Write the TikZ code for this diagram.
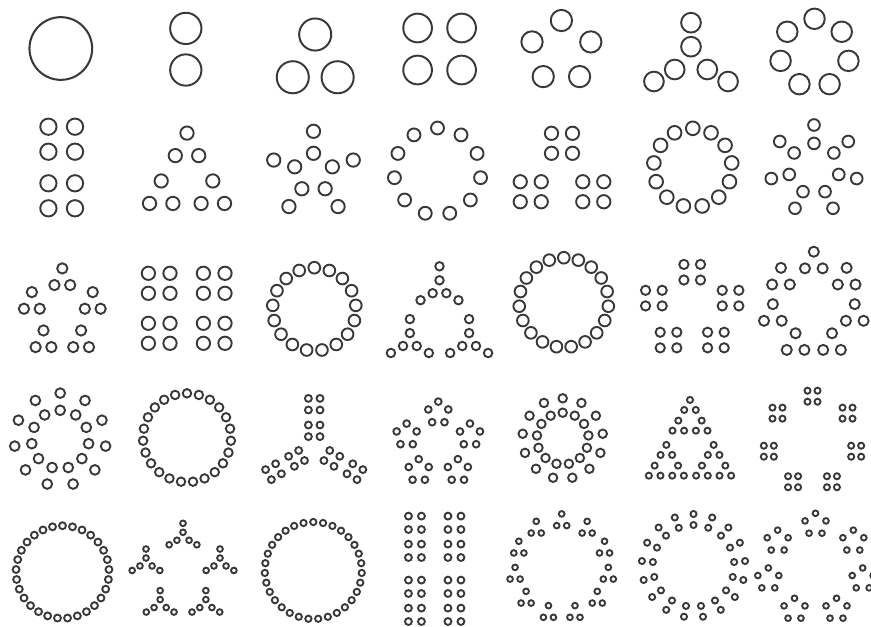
\documentclass[tikz,border=0pt]{standalone}
\makeatletter
\let\fdstop\relax
\newcommand\fdr[5]{\fdrA{#1}{#2}{#3}{#4}#5\fdstop{}{}{}\fdend}
\def\fdrA#1#2#3#4#5#6#7#8#9\fdend{%
  \ifx#5\fdstop\expandafter\@firstoftwo\else\expandafter\@secondoftwo\fi
  {\fdcircle{#1}{#2}{#4}}%
  {\csname fd@#5\endcsname{#1}{#2}{#3}{#4}{#6}{#7}{#8}{#9}}}
\def\fdisP#1#2\fdend{\ifx#1P\def\fdrp{1}\else\def\fdrp{0}\fi}
\def\fdcircle#1#2#3{\pgfmathsetmacro\fdlw{1.85+0.006*#3}%
  \pgfmathsetmacro\fdrr{#3-0.15}%
  \draw[fdline,line width=\fdlw pt] (#1,#2) circle[radius=\fdrr];}
\expandafter\def\csname fd@R\endcsname#1#2#3#4#5#6#7#8{%
  \foreach \fdk in {1,...,#5}{%
    \pgfmathsetmacro\fdb{360*(\fdk-1)/#5}%
    \pgfmathsetmacro\fdu{#6*sin(\fdb)}%
    \pgfmathsetmacro\fdv{-#7*cos(\fdb)}%
    \pgfmathsetmacro\fdx{#1+\fdu*cos(#3)-\fdv*sin(#3)}%
    \pgfmathsetmacro\fdy{#2+\fdu*sin(#3)+\fdv*cos(#3)}%
    \fdisP#8\fdend
    \pgfmathsetmacro\fdc{#3+\fdrp*\fdb}%
    \edef\fdargs{\noexpand\fdr{\fdx}{\fdy}{\fdc}{#4}}\fdargs{#8}}}
\def\fd@grid#1#2#3#4#5#6#7#8{%
  \foreach \fdi/\fdj in {#8}{%
    \pgfmathsetmacro\fdu{\fdi*#5}%
    \pgfmathsetmacro\fdv{\fdj*#6}%
    \pgfmathsetmacro\fdx{#1+\fdu*cos(#3)-\fdv*sin(#3)}%
    \pgfmathsetmacro\fdy{#2+\fdu*sin(#3)+\fdv*cos(#3)}%
    \edef\fdargs{\noexpand\fdr{\fdx}{\fdy}{#3}{#4}}\fdargs{#7}}}
\expandafter\def\csname fd@P\endcsname#1#2#3#4#5#6#7#8{\fd@grid{#1}{#2}{#3}{#4}{0}{#6}{#8}{0/-1,0/1}}
\expandafter\def\csname fd@Q\endcsname#1#2#3#4#5#6#7#8{\fd@grid{#1}{#2}{#3}{#4}{#6}{#7}{#8}{-1/-1,1/-1,-1/1,1/1}}
\makeatother
\tikzset{fdline/.style={draw=black!78}}
\begin{document}
\begin{tikzpicture}[x=1pt,y=-1pt]
\fill[white] (0,0) rectangle (871,627);
\useasboundingbox (0,0) rectangle (871,627);
% row 1
\fdr{60.8}{48.5}{0}{31.5}{}
\fdr{185.8}{49.2}{0}{15.8}{P{}{20.8}{}}
\fdr{315.2}{63}{0}{16.2}{R{3}{25.9}{28.5}}
\fdr{439.6}{49}{0}{14.5}{Q{}{22}{21}}
\fdr{561.4}{51.5}{0}{10.8}{R{5}{30.9}{31}}
\fdr{691}{61.9}{0}{10}{R{3}{30.8}{27.2}P{}{12}{}}
\fdr{814.5}{53.2}{0}{10.4}{R{7}{34.8}{34.4}}
% row 2
\fdr{61.7}{167.5}{0}{8.3}{P{}{28.3}{}Q{}{13.3}{12.5}}
\fdr{187}{180}{0}{6.8}{R{3}{29.8}{31.9}R{3}{13.5}{15}}
\fdr{313.5}{172.9}{0}{6.8}{R{5}{30.8}{30.6}P{}{11}{}}
\fdr{437.5}{171.5}{0}{6.6}{R{11}{43.5}{43.5}}
\fdr{562}{175.6}{0}{6.8}{R{3}{36.1}{32.3}Q{}{10.5}{10}}
\fdr{692.8}{167.7}{0}{7}{R{13}{39.2}{39.4}}
\fdr{814}{168.8}{0}{6}{R{7}{34.6}{34.6}P{}{9.2}{}}
% row 3
\fdr{62.3}{313.8}{0}{5.3}{R{5}{32}{34.3}R{3}{9.1}{11.1}}
\fdr{186.7}{308.3}{0}{6.8}{Q{}{27.5}{25}Q{}{10.8}{10}}
\fdr{314.3}{309.2}{0}{6}{R{17}{41.7}{41.5}}
\fdr{439.5}{324.1}{0}{4.4}{R{3}{34.2}{35.2}R{3}{14.9}{15.6}P{}{7}{}}
\fdr{563.8}{302.5}{0}{6}{R{19}{44.7}{44.8}}
\fdr{692.2}{309.7}{0}{4.8}{R{5}{40.3}{37.5}Q{}{8.3}{7.8}}
\fdr{813.8}{305.7}{0}{5.2}{R{7}{42}{42.9}R{3}{10.2}{11.1}}
% row 4
\fdr{60.2}{439.5}{0}{5}{R{11}{37.3}{37.8}P{}{8.6}{}}
\fdr{187}{437.7}{0}{4.4}{R{23}{44}{44.4}}
\fdr{314.2}{449.2}{0}{3.6}{R{3}{33.7}{31.7}P{}{13.3}{}Q{}{5.8}{5.8}}
\fdr{438.3}{444.8}{0}{3.5}{R{5}{33.3}{31.8}R{5}{10.5}{11.4}}
\fdr{562.7}{438.6}{0}{4.4}{R{13}{33.1}{33.1}P{}{7.2}{}}
\fdr{690}{450.4}{0}{3.2}{R{3}{27.3}{30}R{3}{13.5}{13.8}R{3}{6.7}{6.7}}
\fdr{812.5}{441.2}{0}{3.2}{R{7}{44.8}{45}Q{}{5}{5.5}}
% row 5
\fdr{62.5}{572}{0}{3.6}{R{29}{46.5}{46.3}}
\fdr{183}{574.8}{0}{3}{R{5}{38.9}{37.2}R{3}{11.5}{9.8}P{}{4.5}{}}
\fdr{313.3}{570.5}{0}{3.3}{R{31}{48.5}{48.5}}
\fdr{434.7}{568.8}{0}{3.6}{P{}{32}{}Q{}{19.75}{14}Q{}{6.5}{6.7}}
\fdr{561.7}{568.5}{0}{3}{R{11}{47.1}{46.8}R{3}{5.8}{7.8}}
\fdr{693.5}{565.8}{0}{3.2}{R{17}{46.3}{46.3}P{}{5.5}{}}
\fdr{815.5}{569}{0}{3}{R{7}{48.4}{44.7}R{5}{11}{11}}
\end{tikzpicture}
\end{document}
